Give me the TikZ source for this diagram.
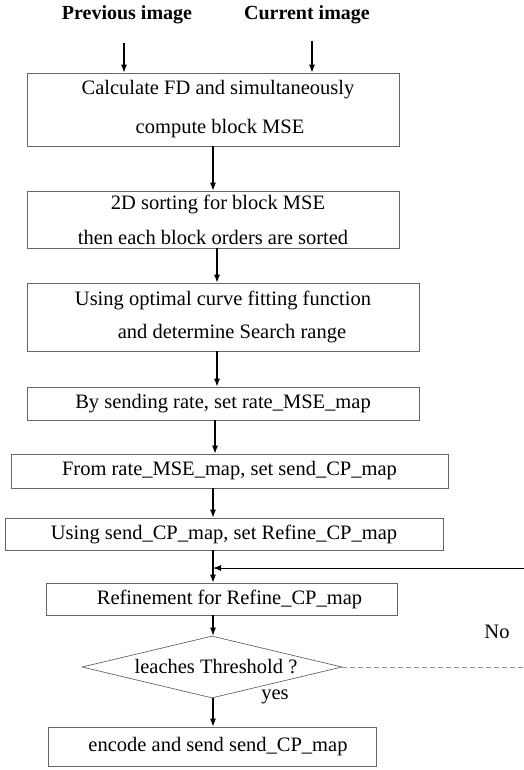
\documentclass[tikz,border=0pt]{standalone}
\usepackage{fontspec}
\setmainfont{Liberation Serif}
\usetikzlibrary{shapes.geometric,arrows.meta}
\newcommand\bodyfs{\fontsize{20.5}{24}\selectfont}
\newcommand\headfs{\fontsize{20}{24}\selectfont\bfseries}
\begin{document}
\begin{tikzpicture}[x=1pt,y=-1pt,
  box/.style={draw=black!60, line width=0.7pt, rectangle, inner sep=0pt, align=center, font=\bodyfs},
  dia/.style={draw=black!60, line width=0.7pt, shape=diamond, aspect=4.26, inner sep=0pt, font=\bodyfs},
  arr/.style={-{Latex[length=8pt,width=6pt]}, line width=1.1pt, black},
  txt/.style={inner sep=0pt, font=\bodyfs},
  head/.style={inner sep=0pt, font=\headfs},
  faintline/.style={dashed, dash pattern=on 5pt off 3pt, line width=0.6pt, black!45}]
\useasboundingbox (0,0) rectangle (524,770);

\node[head] (prev) at (127,15) {Previous image};
\node[head] (cur) at (307,15) {Current image};
\coordinate (pa) at (124,43);
\coordinate (ca) at (312,41);
\coordinate (axis) at (213,0);

\node[box, minimum width=372pt, minimum height=73pt] (b1) at (213,109.5)
  {\hspace*{10pt}Calculate FD and simultaneously\\[15pt]\hspace*{14pt}compute block MSE};
\node[box, minimum width=372pt, minimum height=57pt] (b2) at (213,219.5)
  {\hspace*{10pt}2D sorting for block MSE\\[11pt]then each block orders are sorted};
\node[box, minimum width=392pt, minimum height=68pt] (b3) at (223,317)
  {Using optimal curve fitting function\\[9pt]\hspace*{18pt}and determine Search range};
\node[box, minimum width=392pt, minimum height=33pt] (b4) at (223,403.5)
  {By sending rate, set rate\_MSE\_map};
\node[box, minimum width=437pt, minimum height=34pt] (b5) at (229.5,471)
  {From rate\_MSE\_map, set send\_CP\_map};
\node[box, minimum width=438pt, minimum height=32pt] (b6) at (224,534)
  {Using send\_CP\_map, set Refine\_CP\_map};
\node[box, minimum width=351pt, minimum height=32pt] (b7) at (221.5,599)
  {\hspace*{16pt}Refinement for Refine\_CP\_map};
\node[dia, minimum width=260pt, minimum height=62pt] (d) at (212,667)
  {\hspace*{8pt}leaches Threshold ?};
\node[box, minimum width=328pt, minimum height=39pt] (b8) at (212,746.5)
  {\hspace*{12pt}encode and send send\_CP\_map};

\node[txt] (yes) at (275,697) {yes};
\node[txt] (no) at (497,632) {No};
\coordinate (fbin) at (524,568);
\coordinate (noend) at (524,667);

\draw[arr] (pa) -- (pa |- b1.north);
\draw[arr] (ca) -- (ca |- b1.north);
\draw[arr] (b1.south) -- (b2.north);
\draw[arr] ([xshift=4pt]b2.south) -- ([xshift=4pt]b2.south |- b3.north);
\draw[arr] ([xshift=-6pt]b3.south) -- ([xshift=-6pt]b4.north);
\draw[arr] ([xshift=-8pt]b4.south) -- ([xshift=-8pt]b4.south |- b5.north);
\draw[arr] (axis |- b5.south) -- (axis |- b6.north);
\draw[arr] (axis |- b6.south) -- (axis |- b7.north);
\draw[arr, line width=1pt] (fbin) -- (axis |- fbin);
\draw[arr] (axis |- b7.south) -- (axis |- d.north);
\draw[arr] (axis |- d.south) -- (axis |- b8.north);
\draw[faintline] (d.east) -- (noend);
\end{tikzpicture}
\end{document}
